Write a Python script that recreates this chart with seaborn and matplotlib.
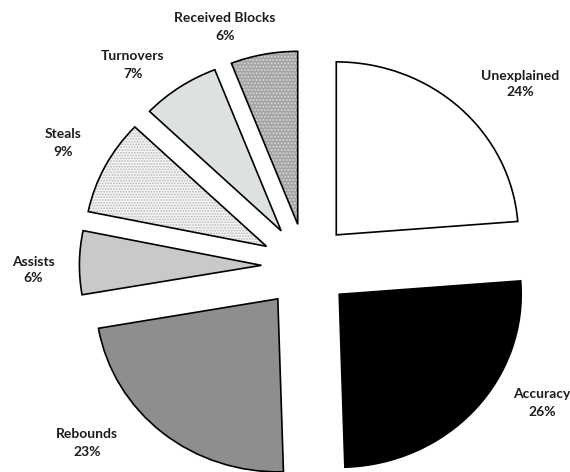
import matplotlib
matplotlib.use("Agg")
import matplotlib.pyplot as plt
import seaborn as sns

# data, clockwise from 12 o'clock
categories = ['Unexplained', 'Accuracy', 'Rebounds', 'Assists', 'Steals', 'Turnovers', 'Received Blocks']
shares = [24, 26, 23, 6, 9, 7, 6]

# look of each slice (fill, hatch, hatch colour)
fills = ['#ffffff', '#000000', '#8e8e8e', '#c9c9c9', '#f6f6f6', '#dde1e1', '#a4a4a4']
hatches = [None, None, None, None, '......', None, '.....']
hatch_colors = ['#ffffff', '#000000', '#8e8e8e', '#c9c9c9', '#b8b8b8', '#dde1e1', '#d8d8d8']

# label centres in pixels (x from left, y from top)
label_px = [(520, 84), (542, 403), (87, 443), (33, 270), (63, 143), (133, 65), (225, 27)]

sns.set_theme(style="white")
plt.rcParams['font.family'] = ['Lato', 'DejaVu Sans']
plt.rcParams['hatch.linewidth'] = 0.9

fig = plt.figure(figsize=(5.7, 4.72), dpi=100)
ax = fig.add_axes([0, 0, 1, 1])

explode = [0.245] * len(shares)

# filled wedges with hatching (no outline)
wedges, _ = ax.pie(shares, explode=explode, startangle=90, counterclock=False,
                   colors=fills, wedgeprops=dict(linewidth=0))
for w, h, hc in zip(wedges, hatches, hatch_colors):
    w.set_edgecolor(hc)
    if h:
        w.set_hatch(h)

# outlines + labels
labels = [f"{c}\n{s}%" for c, s in zip(categories, shares)]
outl, texts = ax.pie(shares, explode=explode, startangle=90, counterclock=False,
                     labels=labels,
                     wedgeprops=dict(fill=False, edgecolor='black', linewidth=1.2),
                     textprops=dict(fontsize=10, fontweight='bold', color='#1c1c1c',
                                    linespacing=1.5))
for t, (px, py) in zip(texts, label_px):
    t.set_transform(None)
    t.set_position((px, 472 - py))
    t.set_ha('center')
    t.set_va('center')
    t.set_multialignment('center')

# slightly wider than tall, like the original
ax.set_aspect('auto')
ax.set_xlim(-306 / 182, 264 / 182)
ax.set_ylim(-206 / 173, 266 / 173)
ax.axis('off')

fig.savefig('out.png', dpi=100)
